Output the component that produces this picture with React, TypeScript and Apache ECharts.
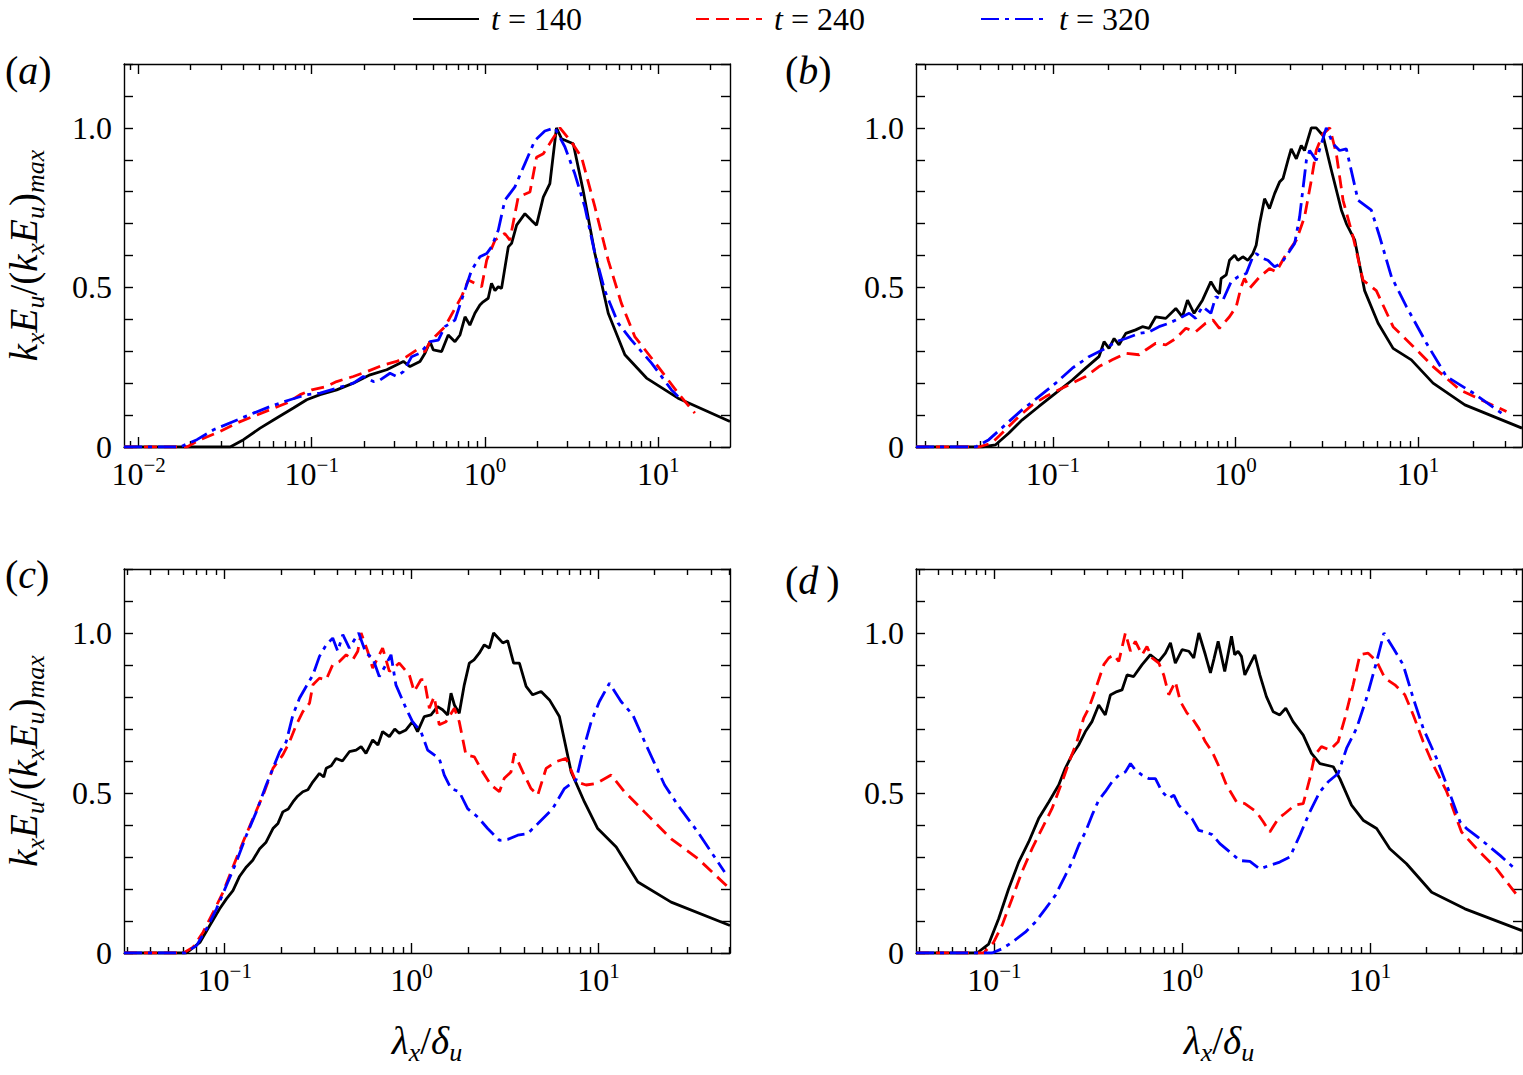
import React, { useEffect, useRef } from "react";
import * as echarts from "echarts";

const FONT = "Liberation Serif";

// ---------- labels / categories ----------
const seriesNames = ["t = 140", "t = 240", "t = 320"];
const panelLetters = ["a", "b", "c", "d"];
const yLabelValues = [0, 0.5, 1.0];
const yTickLabels = ["0", "0.5", "1.0"];
const xMajorExps = [-2, -1, 0, 1];
// x range of each panel, in log10(lambda_x / delta_u)
const xLogMin = [-2.084, -1.75, -1.539, -1.417];
const xLogMax = [1.415, 1.569, 1.704, 1.81];

// ---------- data: [log10(lambda_x/delta_u), k_x E_u / (k_x E_u)_max] ----------
const a140 = [[-2.084,0],[-1.471,0],[-1.394,0.023],[-1.298,0.059],[-1.202,0.091],[-1.106,0.122],[-1.029,0.148],[-0.952,0.164],[-0.856,0.179],[-0.760,0.2],[-0.663,0.226],[-0.567,0.242],[-0.471,0.268],[-0.433,0.252],[-0.375,0.268],[-0.346,0.294],[-0.317,0.33],[-0.298,0.304],[-0.25,0.299],[-0.212,0.351],[-0.173,0.33],[-0.144,0.351],[-0.115,0.408],[-0.087,0.382],[-0.058,0.419],[-0.029,0.445],[-0.01,0.455],[0.019,0.466],[0.038,0.513],[0.058,0.49],[0.077,0.502],[0.096,0.497],[0.135,0.627],[0.154,0.638],[0.183,0.695],[0.231,0.731],[0.269,0.71],[0.298,0.695],[0.337,0.783],[0.375,0.825],[0.413,1.0],[0.442,0.966],[0.510,0.95],[0.567,0.804],[0.635,0.606],[0.712,0.419],[0.808,0.289],[0.933,0.216],[1.115,0.153],[1.415,0.08]];
const a240 = [[-2.084,0],[-1.721,0],[-1.644,0.023],[-1.529,0.049],[-1.433,0.075],[-1.337,0.096],[-1.240,0.117],[-1.144,0.138],[-1.067,0.164],[-1.0,0.179],[-0.913,0.19],[-0.856,0.205],[-0.760,0.221],[-0.683,0.236],[-0.587,0.257],[-0.510,0.268],[-0.452,0.283],[-0.394,0.304],[-0.346,0.299],[-0.317,0.33],[-0.288,0.346],[-0.231,0.377],[-0.173,0.434],[-0.135,0.471],[-0.096,0.523],[-0.019,0.502],[0.01,0.585],[0.058,0.648],[0.115,0.669],[0.144,0.648],[0.192,0.783],[0.26,0.799],[0.298,0.908],[0.337,0.919],[0.385,0.96],[0.433,1.0],[0.5,0.955],[0.558,0.908],[0.635,0.752],[0.712,0.585],[0.788,0.45],[0.865,0.346],[1.0,0.252],[1.115,0.169],[1.212,0.106]];
const a320 = [[-2.084,0],[-1.760,0],[-1.663,0.023],[-1.567,0.054],[-1.452,0.08],[-1.337,0.106],[-1.240,0.127],[-1.125,0.148],[-1.029,0.164],[-0.952,0.169],[-0.856,0.184],[-0.760,0.2],[-0.702,0.221],[-0.644,0.205],[-0.606,0.21],[-0.548,0.231],[-0.510,0.221],[-0.471,0.236],[-0.423,0.283],[-0.375,0.294],[-0.317,0.33],[-0.269,0.335],[-0.231,0.377],[-0.173,0.398],[-0.135,0.46],[-0.077,0.554],[-0.029,0.596],[0.01,0.606],[0.038,0.627],[0.077,0.679],[0.115,0.773],[0.173,0.815],[0.231,0.888],[0.288,0.96],[0.346,0.99],[0.404,1.0],[0.462,0.94],[0.519,0.856],[0.577,0.752],[0.635,0.606],[0.692,0.49],[0.769,0.388],[0.846,0.335],[0.962,0.263],[1.077,0.179],[1.115,0.158]];

const b140 = [[-1.75,0],[-1.388,0],[-1.314,0.007],[-1.241,0.044],[-1.168,0.085],[-1.077,0.127],[-0.985,0.169],[-0.894,0.21],[-0.821,0.247],[-0.748,0.283],[-0.720,0.33],[-0.693,0.309],[-0.665,0.34],[-0.638,0.32],[-0.601,0.356],[-0.547,0.367],[-0.510,0.377],[-0.473,0.372],[-0.437,0.408],[-0.382,0.403],[-0.327,0.434],[-0.291,0.408],[-0.263,0.46],[-0.227,0.419],[-0.181,0.46],[-0.135,0.518],[-0.106,0.49],[-0.088,0.48],[-0.079,0.528],[-0.051,0.539],[-0.033,0.585],[-0.005,0.601],[0.013,0.585],[0.040,0.596],[0.068,0.585],[0.095,0.606],[0.113,0.632],[0.132,0.7],[0.159,0.778],[0.186,0.747],[0.214,0.794],[0.241,0.83],[0.260,0.841],[0.287,0.898],[0.305,0.934],[0.333,0.903],[0.360,0.945],[0.378,0.929],[0.415,1.0],[0.442,1.0],[0.479,0.976],[0.525,0.867],[0.580,0.742],[0.607,0.7],[0.653,0.648],[0.707,0.49],[0.781,0.388],[0.863,0.309],[0.963,0.273],[1.082,0.2],[1.256,0.132],[1.569,0.059]];
const b240 = [[-1.75,0],[-1.406,0],[-1.333,0.013],[-1.260,0.054],[-1.186,0.096],[-1.113,0.132],[-1.040,0.158],[-0.967,0.179],[-0.894,0.2],[-0.821,0.221],[-0.748,0.252],[-0.675,0.273],[-0.601,0.294],[-0.528,0.289],[-0.492,0.304],[-0.437,0.325],[-0.382,0.32],[-0.327,0.34],[-0.272,0.372],[-0.218,0.361],[-0.163,0.388],[-0.124,0.398],[-0.088,0.372],[-0.033,0.408],[0.004,0.44],[0.031,0.502],[0.049,0.528],[0.077,0.497],[0.132,0.533],[0.186,0.559],[0.223,0.549],[0.269,0.596],[0.333,0.648],[0.378,0.721],[0.415,0.835],[0.442,0.929],[0.479,0.981],[0.516,1.0],[0.552,0.919],[0.589,0.773],[0.644,0.658],[0.698,0.523],[0.771,0.49],[0.863,0.377],[0.973,0.315],[1.082,0.252],[1.229,0.179],[1.484,0.111]];
const b320 = [[-1.75,0],[-1.424,0],[-1.351,0.023],[-1.260,0.07],[-1.168,0.117],[-1.077,0.158],[-0.985,0.2],[-0.894,0.247],[-0.803,0.283],[-0.711,0.309],[-0.656,0.33],[-0.601,0.34],[-0.528,0.356],[-0.473,0.361],[-0.419,0.377],[-0.364,0.388],[-0.309,0.403],[-0.254,0.419],[-0.218,0.403],[-0.181,0.44],[-0.135,0.419],[-0.108,0.471],[-0.069,0.46],[-0.024,0.518],[0.013,0.533],[0.059,0.544],[0.095,0.596],[0.113,0.606],[0.150,0.591],[0.177,0.585],[0.214,0.565],[0.250,0.575],[0.287,0.606],[0.324,0.638],[0.351,0.721],[0.388,0.898],[0.406,0.929],[0.442,0.898],[0.470,0.95],[0.497,1.0],[0.534,0.95],[0.570,0.929],[0.607,0.934],[0.671,0.773],[0.744,0.742],[0.790,0.658],[0.854,0.533],[0.936,0.44],[1.046,0.325],[1.155,0.221],[1.302,0.169],[1.457,0.106]];

const c140 = [[-1.539,0],[-1.205,0],[-1.133,0.033],[-1.080,0.086],[-1.027,0.138],[-0.990,0.17],[-0.956,0.195],[-0.920,0.24],[-0.884,0.269],[-0.850,0.29],[-0.813,0.326],[-0.780,0.345],[-0.742,0.389],[-0.715,0.405],[-0.689,0.441],[-0.660,0.45],[-0.635,0.472],[-0.610,0.49],[-0.582,0.504],[-0.555,0.51],[-0.528,0.535],[-0.493,0.561],[-0.470,0.55],[-0.457,0.577],[-0.430,0.585],[-0.404,0.608],[-0.370,0.6],[-0.333,0.629],[-0.297,0.634],[-0.270,0.645],[-0.244,0.624],[-0.208,0.666],[-0.180,0.65],[-0.155,0.692],[-0.119,0.676],[-0.090,0.7],[-0.066,0.687],[-0.030,0.697],[0.005,0.723],[0.032,0.692],[0.068,0.739],[0.104,0.744],[0.139,0.77],[0.166,0.76],[0.193,0.744],[0.211,0.812],[0.229,0.775],[0.255,0.749],[0.282,0.838],[0.309,0.906],[0.334,0.916],[0.362,0.937],[0.389,0.963],[0.416,0.953],[0.439,1.0],[0.488,0.969],[0.514,0.976],[0.546,0.906],[0.577,0.906],[0.613,0.833],[0.648,0.807],[0.693,0.817],[0.738,0.791],[0.791,0.739],[0.854,0.566],[0.925,0.472],[0.996,0.389],[1.095,0.331],[1.211,0.222],[1.389,0.159],[1.704,0.086]];
const c240 = [[-1.539,0],[-1.222,0],[-1.169,0.018],[-1.116,0.065],[-1.062,0.127],[-1.009,0.19],[-0.956,0.269],[-0.902,0.347],[-0.849,0.42],[-0.795,0.493],[-0.742,0.577],[-0.689,0.619],[-0.653,0.66],[-0.617,0.713],[-0.582,0.754],[-0.546,0.781],[-0.528,0.838],[-0.493,0.859],[-0.457,0.854],[-0.422,0.901],[-0.386,0.911],[-0.350,0.932],[-0.315,0.916],[-0.288,0.943],[-0.270,1.0],[-0.235,0.943],[-0.208,0.89],[-0.155,0.953],[-0.119,0.88],[-0.066,0.906],[-0.012,0.869],[0.014,0.817],[0.050,0.854],[0.068,0.854],[0.095,0.765],[0.121,0.801],[0.148,0.713],[0.184,0.723],[0.229,0.765],[0.255,0.723],[0.291,0.619],[0.336,0.613],[0.380,0.566],[0.425,0.525],[0.470,0.504],[0.496,0.546],[0.532,0.566],[0.55,0.624],[0.595,0.566],[0.639,0.514],[0.675,0.493],[0.720,0.577],[0.773,0.598],[0.827,0.608],[0.880,0.535],[0.934,0.525],[0.988,0.53],[1.068,0.556],[1.139,0.504],[1.246,0.441],[1.389,0.357],[1.532,0.295],[1.704,0.2]];
const c320 = [[-1.539,0],[-1.214,0],[-1.151,0.023],[-1.098,0.075],[-1.044,0.138],[-0.991,0.211],[-0.938,0.284],[-0.884,0.368],[-0.831,0.441],[-0.778,0.525],[-0.742,0.577],[-0.706,0.629],[-0.671,0.66],[-0.635,0.744],[-0.600,0.796],[-0.564,0.833],[-0.528,0.869],[-0.493,0.927],[-0.457,0.963],[-0.422,0.984],[-0.395,0.943],[-0.368,0.995],[-0.333,0.953],[-0.306,0.979],[-0.283,1.0],[-0.244,0.937],[-0.208,0.922],[-0.173,0.864],[-0.137,0.901],[-0.110,0.932],[-0.084,0.838],[-0.030,0.765],[0.005,0.723],[0.050,0.692],[0.086,0.634],[0.121,0.619],[0.148,0.608],[0.175,0.556],[0.211,0.514],[0.255,0.504],[0.300,0.451],[0.354,0.425],[0.407,0.389],[0.470,0.352],[0.514,0.355],[0.568,0.368],[0.621,0.373],[0.675,0.404],[0.755,0.451],[0.818,0.514],[0.880,0.54],[0.916,0.629],[0.961,0.723],[1.005,0.786],[1.059,0.843],[1.121,0.786],[1.184,0.744],[1.255,0.65],[1.354,0.525],[1.425,0.462],[1.532,0.378],[1.675,0.253]];

const d140 = [[-1.417,0],[-1.092,0],[-1.030,0.028],[-0.977,0.107],[-0.924,0.2],[-0.870,0.284],[-0.817,0.347],[-0.764,0.42],[-0.710,0.472],[-0.657,0.525],[-0.622,0.577],[-0.586,0.619],[-0.551,0.65],[-0.515,0.692],[-0.480,0.723],[-0.444,0.775],[-0.409,0.744],[-0.382,0.806],[-0.347,0.817],[-0.320,0.822],[-0.293,0.869],[-0.258,0.864],[-0.213,0.901],[-0.169,0.932],[-0.124,0.911],[-0.089,0.937],[-0.062,0.969],[-0.036,0.906],[0.0,0.948],[0.036,0.943],[0.062,0.922],[0.089,1.0],[0.124,0.932],[0.151,0.875],[0.170,0.92],[0.192,0.974],[0.227,0.88],[0.263,0.99],[0.280,0.932],[0.298,0.943],[0.316,0.927],[0.334,0.869],[0.361,0.901],[0.387,0.932],[0.414,0.869],[0.449,0.801],[0.485,0.754],[0.520,0.744],[0.552,0.765],[0.591,0.723],[0.645,0.681],[0.689,0.624],[0.734,0.592],[0.805,0.582],[0.840,0.545],[0.902,0.462],[0.964,0.415],[1.036,0.389],[1.106,0.326],[1.195,0.279],[1.329,0.19],[1.506,0.138],[1.810,0.07]];
const d240 = [[-1.417,0],[-1.057,0],[-1.004,0.033],[-0.959,0.086],[-0.906,0.169],[-0.853,0.253],[-0.799,0.326],[-0.746,0.389],[-0.693,0.451],[-0.639,0.535],[-0.595,0.608],[-0.560,0.66],[-0.524,0.734],[-0.497,0.765],[-0.471,0.807],[-0.444,0.854],[-0.417,0.901],[-0.391,0.922],[-0.364,0.932],[-0.337,0.911],[-0.302,1.0],[-0.275,0.943],[-0.249,0.974],[-0.213,0.932],[-0.187,0.958],[-0.160,0.922],[-0.124,0.906],[-0.098,0.869],[-0.071,0.807],[-0.036,0.848],[-0.009,0.786],[0.027,0.749],[0.053,0.734],[0.089,0.702],[0.124,0.66],[0.160,0.629],[0.201,0.577],[0.236,0.525],[0.290,0.472],[0.334,0.467],[0.396,0.441],[0.432,0.41],[0.467,0.378],[0.512,0.42],[0.547,0.436],[0.600,0.462],[0.645,0.467],[0.680,0.545],[0.707,0.619],[0.742,0.645],[0.787,0.634],[0.831,0.66],[0.867,0.734],[0.911,0.838],[0.947,0.932],[0.991,0.937],[1.036,0.911],[1.080,0.859],[1.133,0.838],[1.186,0.807],[1.231,0.744],[1.284,0.66],[1.338,0.587],[1.409,0.504],[1.488,0.378],[1.568,0.326],[1.675,0.263],[1.799,0.169]];
const d320 = [[-1.417,0],[-1.012,0],[-0.959,0.013],[-0.906,0.033],[-0.835,0.065],[-0.782,0.096],[-0.728,0.138],[-0.675,0.18],[-0.622,0.242],[-0.586,0.284],[-0.551,0.336],[-0.515,0.378],[-0.480,0.43],[-0.444,0.478],[-0.409,0.504],[-0.373,0.535],[-0.337,0.556],[-0.302,0.566],[-0.275,0.592],[-0.249,0.572],[-0.213,0.556],[-0.178,0.545],[-0.142,0.545],[-0.107,0.504],[-0.071,0.483],[-0.044,0.493],[-0.018,0.462],[0.018,0.441],[0.053,0.42],[0.089,0.383],[0.124,0.378],[0.160,0.37],[0.201,0.342],[0.254,0.316],[0.307,0.289],[0.361,0.286],[0.414,0.263],[0.467,0.274],[0.520,0.284],[0.574,0.3],[0.627,0.368],[0.680,0.441],[0.734,0.504],[0.778,0.535],[0.831,0.561],[0.876,0.64],[0.929,0.702],[0.982,0.796],[1.036,0.911],[1.075,1.0],[1.124,0.953],[1.177,0.901],[1.231,0.796],[1.284,0.702],[1.355,0.608],[1.409,0.525],[1.480,0.41],[1.515,0.389],[1.586,0.357],[1.693,0.305],[1.782,0.258]];

const panelData = [
  [a140, a240, a320],
  [b140, b240, b320],
  [c140, c240, c320],
  [d140, d240, d320],
];

// ---------- layout & style (kept apart from data) ----------
const gridBoxes = [
  [124, 64, 606, 383],
  [916, 64, 606, 383],
  [124, 569, 606, 384],
  [916, 569, 606, 384],
];
const letterPos = [
  [5, 50],
  [785, 50],
  [5, 554],
  [785, 560],
];
const legendLefts = [412, 695, 980];
const seriesColors = ["#000000", "#ff0000", "#0000ff"];
const seriesDash: any[] = ["solid", [13, 7], [18, 6, 4, 6]];

const AXIS_COLOR = "#000";
const TICK_FS = 32;

function minorValues(min: number, max: number) {
  const out: number[] = [];
  for (let n = Math.floor(min); n <= Math.ceil(max); n++) {
    for (let k = 2; k <= 9; k++) {
      const v = n + Math.log10(k);
      if (v > min && v < max) out.push(v);
    }
  }
  return out;
}

function buildOption() {
  const grid: any[] = [];
  const xAxis: any[] = [];
  const yAxis: any[] = [];
  const series: any[] = [];
  const graphic: any[] = [];
  const lineStyle = { color: AXIS_COLOR, width: 1.4 };

  const yTitle =
    "{m|k}{s|x}{m|E}{s|u}{r|/(}{m|k}{s|x}{m|E}{s|u}{r|)}{s|max}";
  const xTitle = "{m|λ}{s|x}{r|/}{m|δ}{s|u}";
  const titleRich = {
    m: { fontFamily: FONT, fontStyle: "italic", fontSize: 39, lineHeight: 50, color: "#000" },
    r: { fontFamily: FONT, fontSize: 39, lineHeight: 50, color: "#000" },
    s: { fontFamily: FONT, fontStyle: "italic", fontSize: 26, lineHeight: 26, verticalAlign: "bottom", color: "#000" },
  };

  gridBoxes.forEach(([l, t, w, h], g) => {
    grid.push({ left: l, top: t, width: w, height: h, containLabel: false, outerBoundsMode: "none" });
    const min = xLogMin[g];
    const max = xLogMax[g];
    const majors = xMajorExps.filter((v) => v >= min && v <= max);
    const minors = minorValues(min, max);
    const base = {
      type: "value",
      gridIndex: g,
      min,
      max,
      splitLine: { show: false },
      axisPointer: { show: false },
    };
    const bottomRow = g >= 2;
    xAxis.push({
      ...base,
      position: "bottom",
      axisLine: { show: true, onZero: false, lineStyle },
      axisTick: { show: true, inside: true, length: 10, customValues: majors, lineStyle },
      axisLabel: {
        show: true,
        customValues: majors,
        margin: 7,
        formatter: (v: number) => {
          const n = Math.round(v);
          const sup = n < 0 ? "\u2212" + -n : String(n);
          return "{b|10}{s|" + sup + "}";
        },
        rich: {
          b: { fontFamily: FONT, fontSize: TICK_FS, lineHeight: 40, color: "#000" },
          s: { fontFamily: FONT, fontSize: 21, lineHeight: 21, verticalAlign: "top", color: "#000" },
        },
      },
      name: bottomRow ? xTitle : "",
      nameLocation: "middle",
      nameGap: 62,
      nameTextStyle: { rich: titleRich },
    });
    xAxis.push({
      ...base,
      position: "bottom",
      axisLine: { show: false, onZero: false },
      axisTick: { show: true, inside: true, length: 6, customValues: minors, lineStyle },
      axisLabel: { show: false },
    });
    xAxis.push({
      ...base,
      position: "top",
      axisLine: { show: true, onZero: false, lineStyle },
      axisTick: { show: true, inside: true, length: 10, customValues: majors, lineStyle },
      axisLabel: { show: false },
    });
    xAxis.push({
      ...base,
      position: "top",
      axisLine: { show: false, onZero: false },
      axisTick: { show: true, inside: true, length: 6, customValues: minors, lineStyle },
      axisLabel: { show: false },
    });
    const leftCol = g % 2 === 0;
    const ybase = {
      type: "value",
      gridIndex: g,
      min: 0,
      max: 1.2,
      interval: 0.1,
      splitLine: { show: false },
      axisPointer: { show: false },
    };
    yAxis.push({
      ...ybase,
      position: "left",
      axisLine: { show: true, onZero: false, lineStyle },
      axisTick: { show: true, inside: true, length: 9, lineStyle },
      axisLabel: {
        show: true,
        customValues: yLabelValues,
        margin: 12,
        fontFamily: FONT,
        fontSize: TICK_FS,
        color: "#000",
        formatter: (v: number) => {
          const i = yLabelValues.findIndex((y) => Math.abs(y - v) < 1e-6);
          return i >= 0 ? yTickLabels[i] : "";
        },
      },
      name: leftCol ? yTitle : "",
      nameLocation: "middle",
      nameRotate: 90,
      nameGap: 76,
      nameTextStyle: { rich: titleRich },
    });
    yAxis.push({
      ...ybase,
      position: "right",
      axisLine: { show: true, onZero: false, lineStyle },
      axisTick: { show: true, inside: true, length: 9, lineStyle },
      axisLabel: { show: false },
    });

    panelData[g].forEach((data, s) => {
      series.push({
        type: "line",
        name: seriesNames[s],
        xAxisIndex: g * 4,
        yAxisIndex: g * 2,
        data,
        symbol: "none",
        showSymbol: false,
        smooth: false,
        silent: true,
        z: 2 + s,
        lineStyle: { color: seriesColors[s], width: 2.8, type: seriesDash[s] },
        itemStyle: { color: seriesColors[s] },
      });
    });

    const letter = panelLetters[g] + (panelLetters[g] === "d" ? "\u2009" : "");
    graphic.push({
      type: "text",
      x: letterPos[g][0],
      y: letterPos[g][1],
      style: {
        text: "{p|(}{l|" + letter + "}{p|)}",
        rich: {
          p: { fontFamily: FONT, fontSize: 40, fill: "#000" },
          l: { fontFamily: FONT, fontSize: 40, fontStyle: "italic", fill: "#000" },
        },
      },
    });
  });

  const legend = seriesNames.map((nm, i) => ({
    data: [nm],
    left: legendLefts[i],
    top: 3,
    padding: 0,
    itemWidth: 66,
    itemHeight: 14,
    selectedMode: false,
    itemStyle: { opacity: 0 },
    formatter: (name: string) => "{i|t}" + name.slice(1),
    textStyle: {
      fontFamily: FONT,
      fontSize: 32,
      lineHeight: 30,
      color: "#000",
      padding: [0, 0, 0, 7],
      rich: { i: { fontFamily: FONT, fontSize: 32, lineHeight: 30, fontStyle: "italic", color: "#000" } },
    },
  }));

  return {
    animation: false,
    backgroundColor: "#fff",
    textStyle: { fontFamily: FONT },
    grid,
    xAxis,
    yAxis,
    legend,
    series,
    graphic,
  };
}

export default function App() {
  const ref = useRef<HTMLDivElement>(null);
  useEffect(() => {
    if (!ref.current) return;
    const chart = echarts.init(ref.current, undefined, { renderer: "svg" });
    chart.setOption(buildOption() as any);
    return () => chart.dispose();
  }, []);
  return (
    <div
      ref={ref}
      style={{ position: "absolute", left: 0, top: 0, width: 1523, height: 1075, background: "#fff" }}
    />
  );
}
